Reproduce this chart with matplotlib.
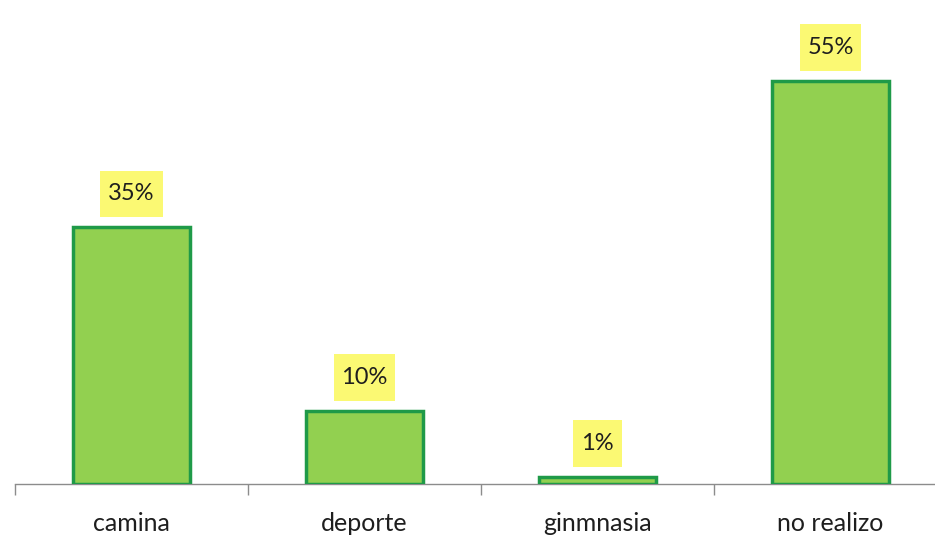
import numpy as np
import matplotlib.pyplot as plt
from matplotlib.path import Path

categorias = ['camina', 'deporte', 'ginmnasia', 'no realizo']
porcentajes = [35, 10, 1, 55]
etiquetas = ['35%', '10%', '1%', '55%']

plt.rcParams['font.family'] = ['Lato', 'DejaVu Sans']


def caja(x0, y0, width, height, mutation_size):
    # yellow label box, taller than wide padding
    px = 0.33 * mutation_size
    py = 0.55 * mutation_size
    x0, y0 = x0 - px, y0 - py
    x1, y1 = x0 + width + 2 * px, y0 + height + 2 * py
    return Path([(x0, y0), (x1, y0), (x1, y1), (x0, y1), (x0, y0)], closed=True)


fig = plt.figure(figsize=(9.35, 5.4), dpi=100)
# the axis runs past the right edge, like the original sheet
ax = fig.add_axes([15 / 935, 56 / 540, 932 / 935, 484 / 540])

x = np.arange(len(categorias))
ax.bar(x, porcentajes, width=0.5, color='#92d050', edgecolor='#1f9a48',
       linewidth=2.5, zorder=3)

for xi, v, t in zip(x, porcentajes, etiquetas):
    ax.annotate(t, (xi, v), xytext=(0, 24), textcoords='offset points',
                ha='center', va='center', fontsize=17, color='#1e1e1e',
                bbox=dict(boxstyle=caja, fc='#fbf973', ec='none'))

ax.set_xlim(-0.5, 3.5)
ax.set_ylim(0, 66)
ax.set_xticks(np.arange(-0.5, 4, 1))
ax.set_xticklabels([])
ax.set_xticks(x, minor=True)
ax.set_xticklabels(categorias, minor=True, fontsize=18, color='#1e1e1e')
ax.tick_params(axis='x', which='major', length=8, width=1, color='#8c8c8c',
               direction='out')
ax.tick_params(axis='x', which='minor', length=0, pad=20)
ax.set_yticks([])
for s in ['top', 'right', 'left']:
    ax.spines[s].set_visible(False)
ax.spines['bottom'].set_color('#8c8c8c')
ax.spines['bottom'].set_linewidth(1)

fig.savefig('out.png', dpi=100)
